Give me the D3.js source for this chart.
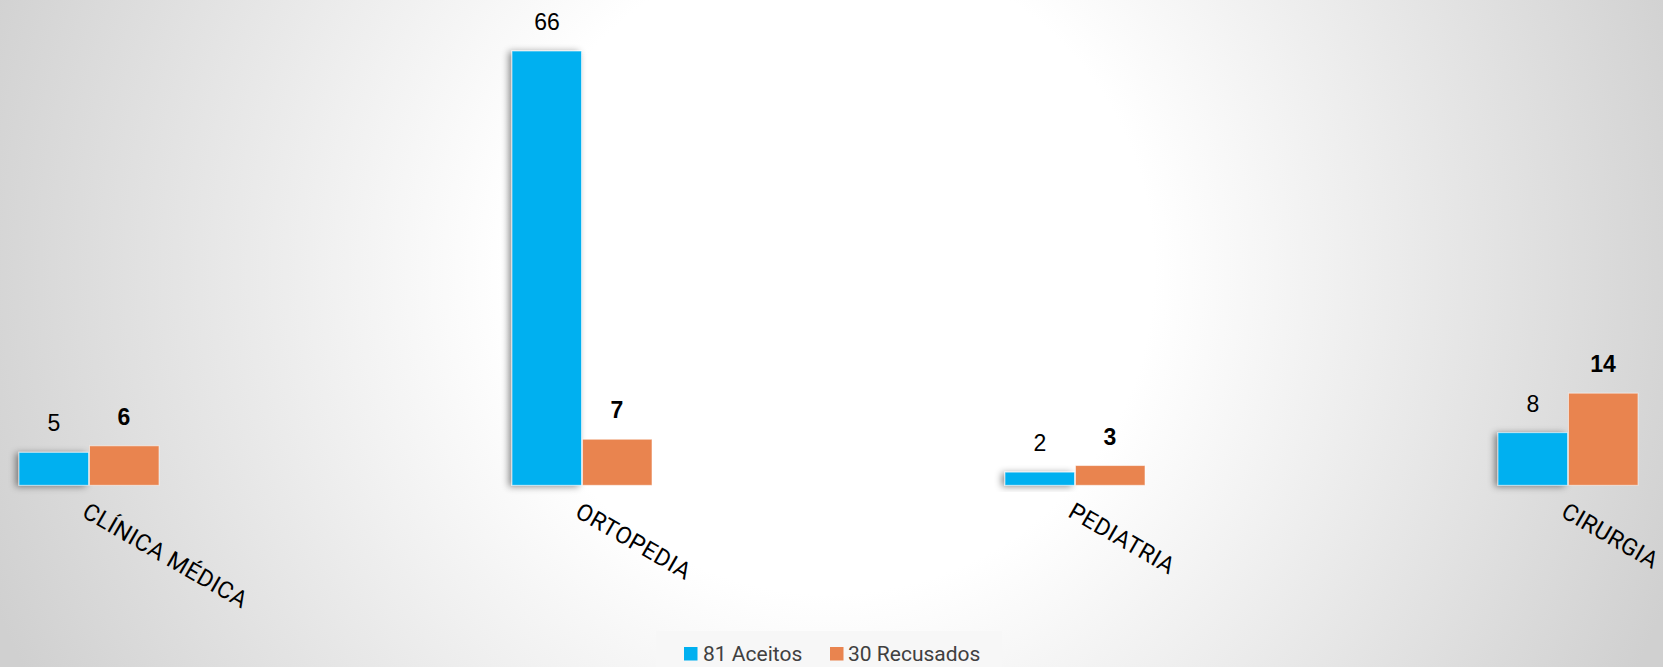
<!DOCTYPE html>
<html><head><meta charset="utf-8">
<script src="https://cdn.jsdelivr.net/npm/d3@7/dist/d3.min.js"></script>
<style>html,body{margin:0;padding:0;overflow:hidden;background:#fff}</style>
</head><body>
<script>
const categories = ["CLÍNICA MÉDICA", "ORTOPEDIA", "PEDIATRIA", "CIRURGIA"];
const aceitos = [5, 66, 2, 8];
const recusados = [6, 7, 3, 14];
const seriesNames = ["81 Aceitos", "30 Recusados"];
const colors = ["#00B0F0", "#E9844F"];

const W = 1663, H = 667;
const svg = d3.select("body").append("svg").attr("width", W).attr("height", H);
const defs = svg.append("defs");
const rg = defs.append("radialGradient").attr("id","bg").attr("gradientUnits","userSpaceOnUse")
  .attr("cx",830).attr("cy",270).attr("r",900);
rg.append("stop").attr("offset","0").attr("stop-color","#ffffff");
rg.append("stop").attr("offset","0.36").attr("stop-color","#ffffff");
rg.append("stop").attr("offset","1").attr("stop-color","#d0d0d0");
const f = defs.append("filter").attr("id","sh").attr("x","-50%").attr("y","-50%").attr("width","200%").attr("height","200%");
f.append("feDropShadow").attr("dx",-3).attr("dy",1).attr("stdDeviation",3.5).attr("flood-color","#000").attr("flood-opacity",0.45);

svg.append("rect").attr("width",W).attr("height",H).attr("fill","url(#bg)");

const x = d3.scaleBand().domain(categories).range([-157.5, 1814.5]).padding(0);
const barW = 70;
const y = d3.scaleLinear().domain([0, 70]).range([485.3, 485.3 - 70*6.58]);

const series = [aceitos, recusados];
series.forEach((vals, si) => {
  const g = svg.append("g");
  g.selectAll("rect").data(categories).join("rect")
    .attr("x", c => x(c) + x.bandwidth()/2 + (si === 0 ? -barW : 0.5))
    .attr("width", barW - 0.5)
    .attr("y", (c,i) => y(vals[i]))
    .attr("height", (c,i) => y(0) - y(vals[i]))
    .attr("fill", colors[si])
    .attr("stroke", "rgba(255,255,255,0.55)")
    .attr("stroke-width", 1)
    .attr("filter", si === 0 ? "url(#sh)" : null);
});
series.forEach((vals, si) => {
  svg.append("g").selectAll("text").data(categories).join("text")
    .attr("x", c => x(c) + x.bandwidth()/2 + (si === 0 ? -barW/2 : barW/2))
    .attr("y", (c,i) => y(vals[i]) - 21)
    .attr("text-anchor","middle")
    .attr("font-family","Liberation Sans, Arial, sans-serif")
    .attr("font-size", 23)
    .attr("font-weight", si === 1 ? "bold" : "normal")
    .attr("fill","#000")
    .text((c,i) => vals[i]);
});

svg.append("g").selectAll("text").data(categories).join("text")
  .attr("transform", c => `translate(${x(c) + x.bandwidth()/2 + 1},${500}) rotate(30)`)
  .attr("dy","0.78em")
  .attr("text-anchor","start")
  .attr("font-family","Roboto, sans-serif")
  .attr("font-size", 23.5)
  .attr("letter-spacing", 0.4)
  .attr("fill","#000")
  .text(c => c);

// legend
const lg = svg.append("g");
lg.append("rect").attr("x",656).attr("y",631).attr("width",346).attr("height",40).attr("fill","#f7f7f7");
const items = [{x:684, tx:703}, {x:830, tx:848}];
items.forEach((it, i) => {
  lg.append("rect").attr("x",it.x).attr("y",647).attr("width",13.5).attr("height",13.5).attr("fill",colors[i]);
  lg.append("text").attr("x",it.tx).attr("y",660.5).attr("font-family","Roboto, sans-serif")
    .attr("font-size",21).attr("fill","#404040").text(seriesNames[i]);
});
</script>
</body></html>
